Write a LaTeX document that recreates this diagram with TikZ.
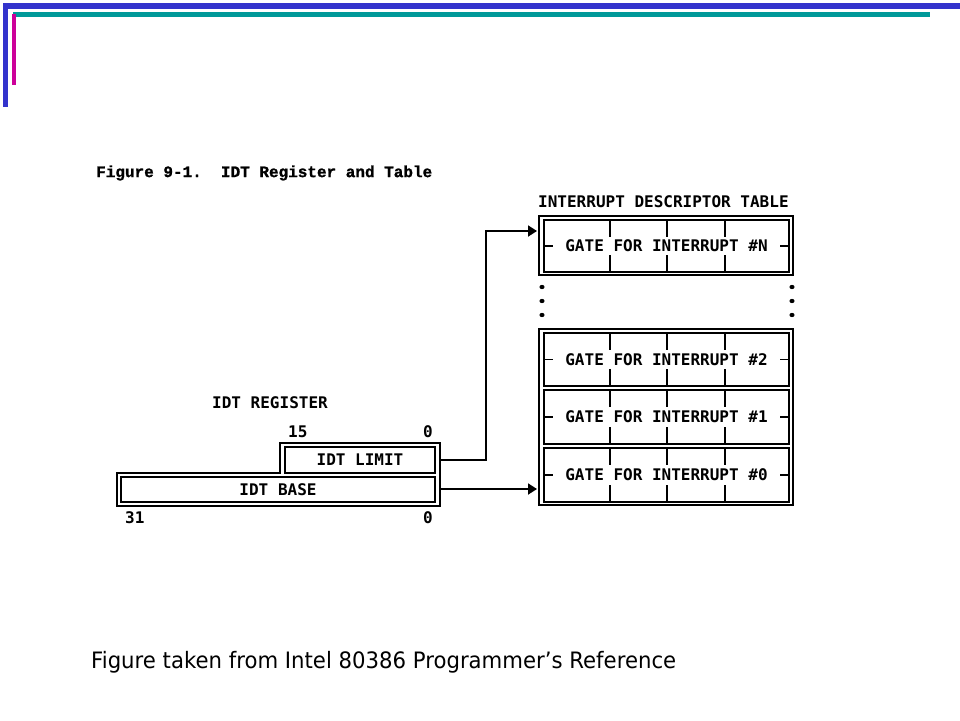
\documentclass[tikz,border=0pt]{standalone}
\usepackage{fontspec}
\usepackage{graphicx}
\usetikzlibrary{arrows.meta}
\newfontfamily\labfont{DejaVu Sans Mono}
\newfontfamily\titfont{Liberation Mono}[BoldFeatures={FakeBold=1.2}]
\newfontfamily\capfont{DejaVu Sans}
\definecolor{barblue}{HTML}{3333CC}
\definecolor{barteal}{HTML}{009999}
\definecolor{barmag}{HTML}{CC0099}
\begin{document}
\begin{tikzpicture}[x=1pt,y=-1pt,
  lbl/.style={font=\labfont\bfseries\fontsize{16}{18}\selectfont, inner sep=0pt},
  boxline/.style={line width=1.7pt},
  row/.style={draw, boxline, lbl, minimum width=245pt},
  frame/.style={draw, boxline, inner sep=0pt, minimum width=254pt},
  reg/.style={draw, boxline, lbl},
  conn/.style={line width=1.8pt, -{Triangle[length=9pt,width=11pt]}},
  tick/.style={line width=1.7pt}]
\useasboundingbox (0,0) rectangle (960,720);
% top decoration bars
\fill[barblue] (3,3) rectangle (960,9);
\fill[barblue] (3,3) rectangle (8,107);
\fill[barteal] (13,12) rectangle (930,17);
\fill[barmag] (12,14) rectangle (16,85);
% title
\node[anchor=west, inner sep=0pt, font=\titfont\bfseries\fontsize{16}{18}\selectfont] (ttl) at (96,173) {Figure 9-1.\ \ IDT Register and Table};
% interrupt descriptor table
\node[lbl, anchor=west] (idtt) at (538,202) {INTERRUPT DESCRIPTOR TABLE};
\node[frame, minimum height=59pt] (tn) at (666,245.5) {};
\node[frame, minimum height=176pt] (tl) at (666,417) {};
\node[row, minimum height=52pt] (rn) at (666.5,246) {GATE FOR INTERRUPT \#N};
\node[row, minimum height=53pt] (r2) at (666.5,359.5) {GATE FOR INTERRUPT \#2};
\node[row, minimum height=54pt] (r1) at (666.5,417) {GATE FOR INTERRUPT \#1};
\node[row, minimum height=54pt] (r0) at (666.5,475) {GATE FOR INTERRUPT \#0};
\foreach \r in {rn,r2,r1,r0} {
  \foreach \dx in {-56.5,0.5,58.5} {
    \draw[tick] (\r.north) ++(\dx,0) -- ++(0,17.5);
    \draw[tick] (\r.south) ++(\dx,0) -- ++(0,-17.5);
  }
  \draw[tick] (\r.west) -- ++(10,0);
  \draw[tick] (\r.east) -- ++(-10,0);
}
% ellipsis dots
\foreach \yy in {287,301,315} {
  \fill (542,\yy) ellipse (2.6pt and 2.1pt);
  \fill (792,\yy) ellipse (2.6pt and 2.1pt);
}
% IDT register
\node[lbl, anchor=west] (regt) at (212,403) {IDT REGISTER};
\node[lbl, anchor=west] (b15) at (288,432) {15};
\node[lbl, anchor=west] (b0a) at (423,432) {0};
\node[lbl, anchor=west] (b31) at (125,518) {31};
\node[lbl, anchor=west] (b0b) at (423,518) {0};
\draw[boxline] (117,473) -- (280,473) -- (280,443) -- (440,443) -- (440,506) -- (117,506) -- cycle;
\node[reg, minimum width=150pt, minimum height=26pt] (lim) at (360,460) {IDT LIMIT};
\node[reg, minimum width=314pt, minimum height=25pt] (base) at (278,489.5) {IDT BASE};
% connectors
\coordinate (limout) at (440,460);
\coordinate (baseout) at (440,489);
\coordinate (ntip) at (537,231);
\coordinate (btip) at (537,489);
\draw[conn] (limout) -- ++(46,0) |- (ntip);
\draw[conn] (baseout) -- (btip);
% caption
\node[anchor=base west, inner sep=0pt] (cap) at (91,668) {\resizebox{585pt}{\height}{\capfont\fontsize{22.6}{26}\selectfont Figure taken from Intel 80386 Programmer’s Reference}};
\end{tikzpicture}
\end{document}
